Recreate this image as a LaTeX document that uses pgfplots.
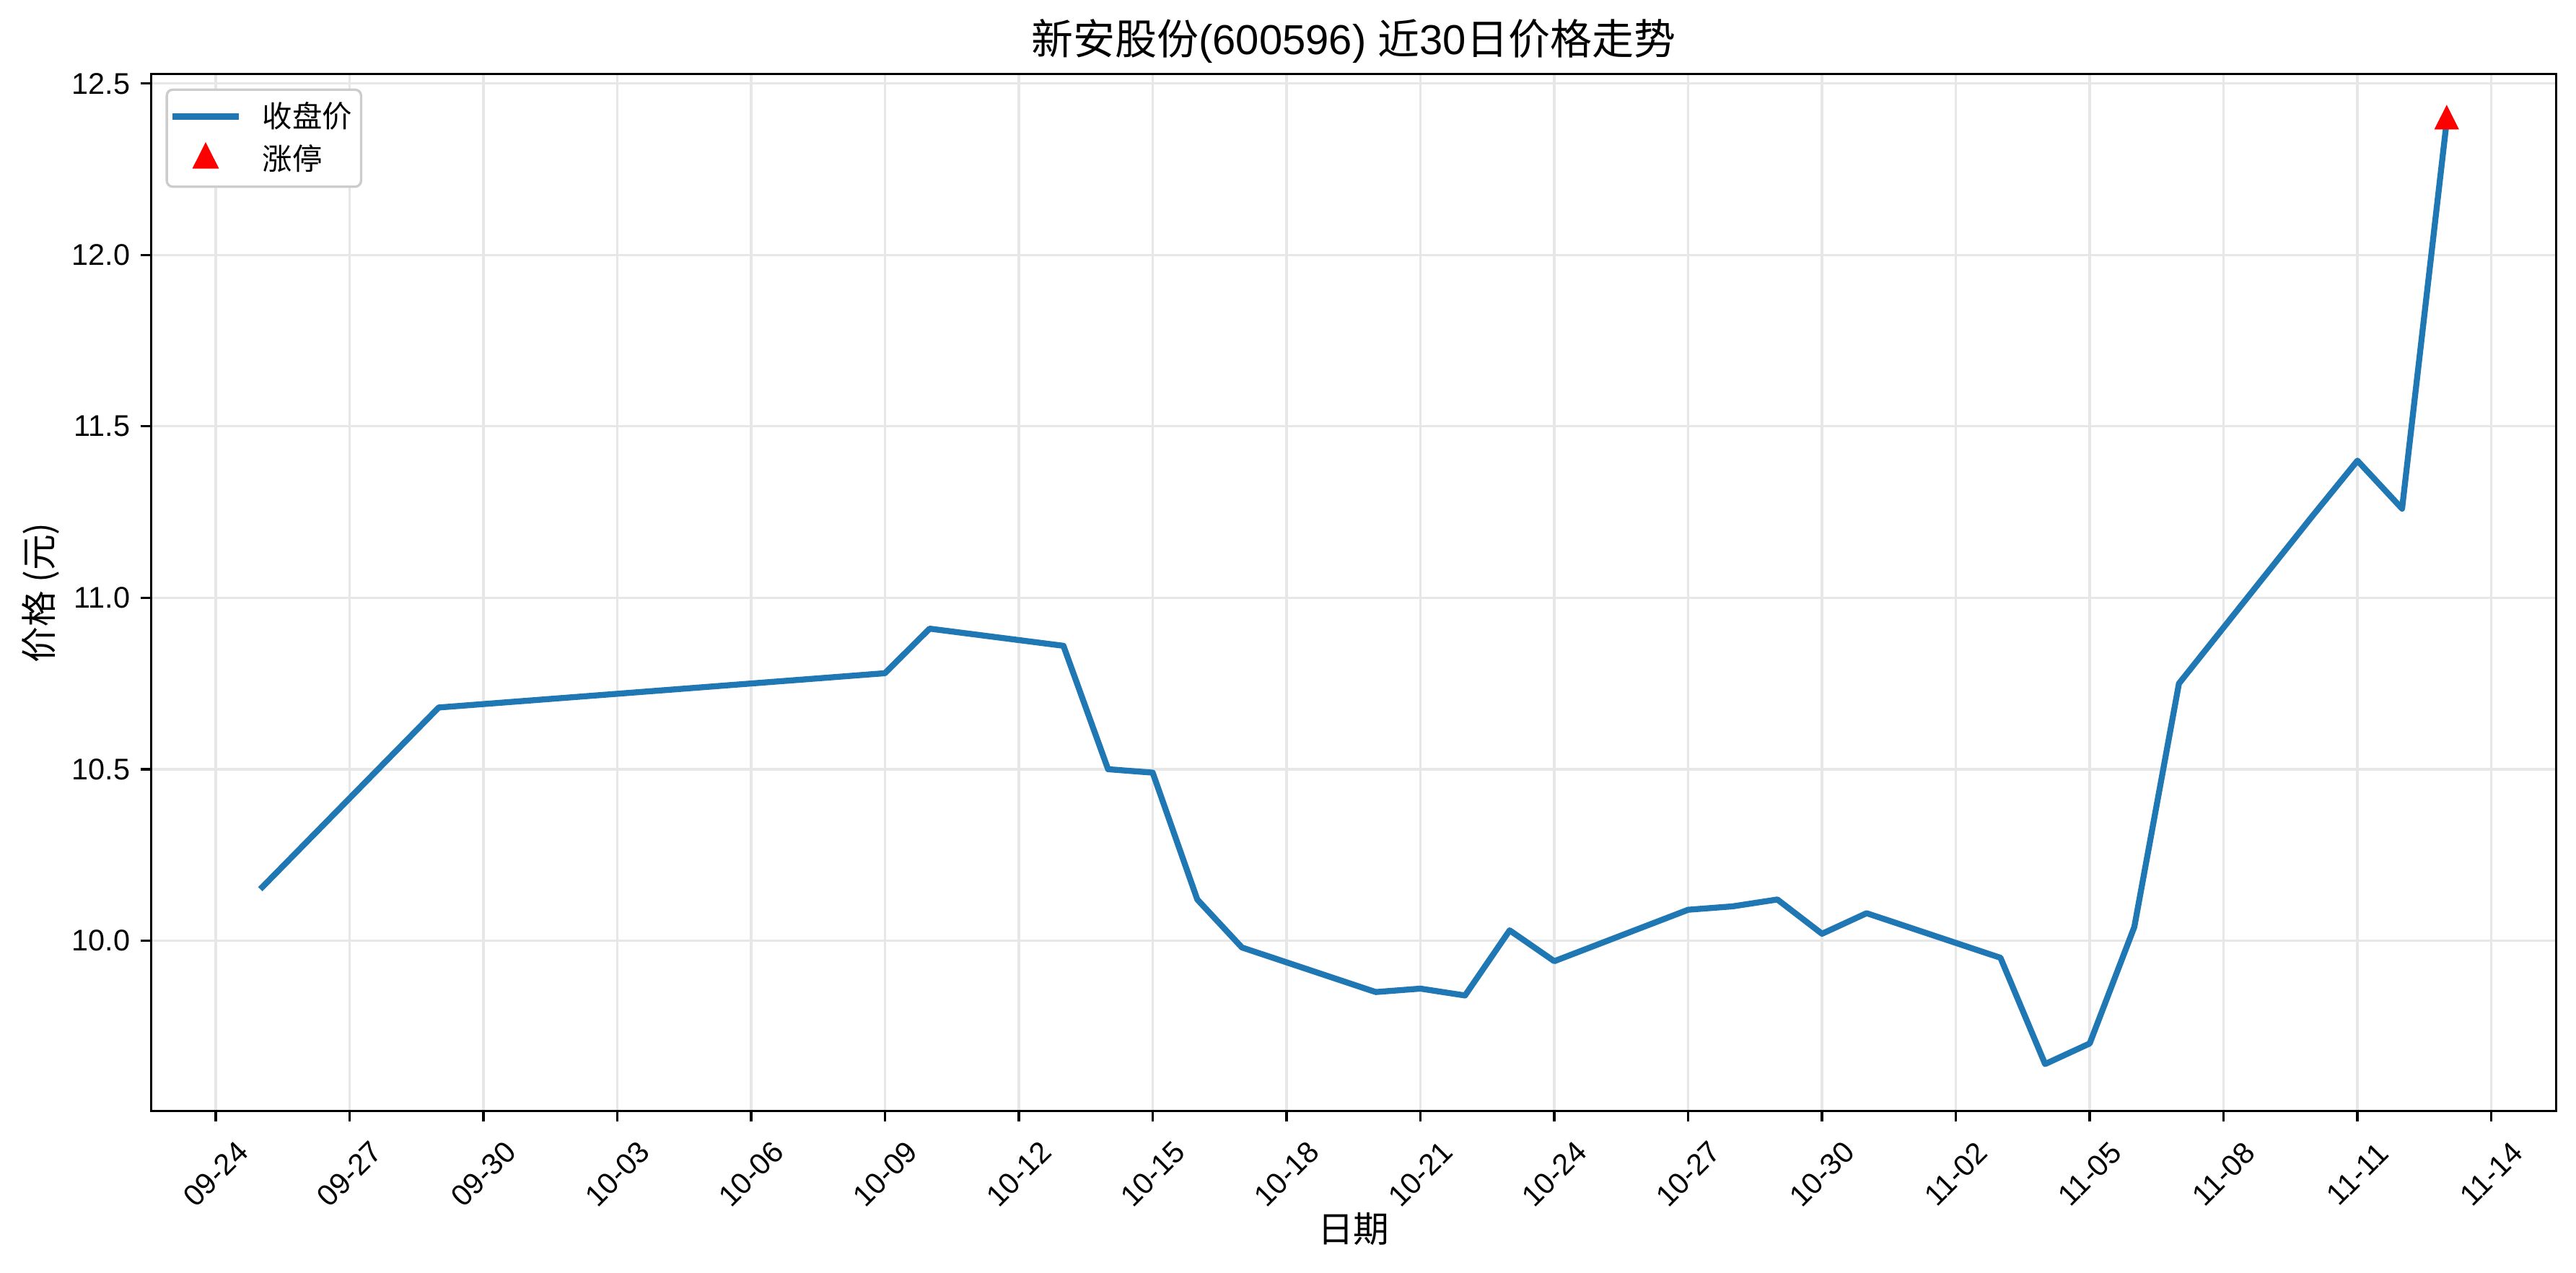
\documentclass[border=0pt]{standalone}
\usepackage{fontspec}
\setmainfont{Liberation Sans}
\newfontfamily\cjk{Noto Sans CJK SC}
\usepackage{pgfplots}
\pgfplotsset{compat=1.18}
\definecolor{tabblue}{HTML}{1F77B4}
\definecolor{gridc}{RGB}{231,231,231}
\definecolor{legc}{RGB}{204,204,204}
\begin{document}
\begin{tikzpicture}
\begin{axis}[
  scale only axis,
  width=804.6pt, height=346.9pt,
  xmin=-1.45, xmax=52.45, ymin=9.5025, ymax=12.5275,
  xtick={0,3,6,9,12,15,18,21,24,27,30,33,36,39,42,45,48,51},
  xticklabels={09-24,09-27,09-30,10-03,10-06,10-09,10-12,10-15,10-18,10-21,10-24,10-27,10-30,11-02,11-05,11-08,11-11,11-14},
  ytick={10,10.5,11,11.5,12,12.5},
  yticklabel style={/pgf/number format/.cd, fixed, fixed zerofill, precision=1},
  /pgf/number format/assume math mode=true,
  tick label style={font=\fontsize{10}{12}\selectfont},
  xticklabel style={rotate=45, anchor=center},
  xticklabel shift=17.5pt,
  tick align=outside, tick pos=left,
  major tick length=3.5pt,
  every tick/.style={black, line width=0.8pt},
  axis line style={black, line width=0.8pt},
  grid=major,
  major grid style={gridc, line width=0.8pt},
  title={{\cjk 新安股份}(600596) {\cjk 近}30{\cjk 日价格走势}},
  title style={font=\fontsize{14}{16.8}\selectfont, at={(axis description cs:0.5,1.0014)}, anchor=base},
  xlabel={\cjk 日期},
  xlabel style={font=\fontsize{12}{14.4}\selectfont, at={(axis description cs:0.5,-0.1136)}, anchor=center},
  ylabel={\cjk 价格 (元)},
  ylabel style={font=\fontsize{12}{14.4}\selectfont, at={(axis description cs:-0.0457,0.5)}, anchor=center},
  legend image code/.code={\draw[mark repeat=2,mark phase=2,#1] plot coordinates {(0pt,0pt) (11pt,0pt) (22pt,0pt)};},
  legend style={at={(axis description cs:0,1)}, anchor=north west, xshift=4.9pt, yshift=-4.8pt,
    draw=legc, line width=0.8pt, rounded corners=2pt, fill=white,
    font=\fontsize{10}{12}\selectfont, inner xsep=1pt, inner ysep=2pt, row sep=0.5pt,
    nodes={inner sep=2pt}, /tikz/every odd column/.append style={column sep=5pt}},
  legend cell align=left,
]
\addplot[tabblue, line width=2pt, line join=round] table {
x y
1 10.15
5 10.68
15 10.78
16 10.91
19 10.86
20 10.50
21 10.49
22 10.12
23 9.98
26 9.85
27 9.86
28 9.84
29 10.03
30 9.94
33 10.09
34 10.10
35 10.12
36 10.02
37 10.08
40 9.95
41 9.64
42 9.70
43 10.04
44 10.75
47 11.24
48 11.40
49 11.26
50 12.39
};
\addlegendentry{\cjk 收盘价}
\addplot[only marks, mark=triangle*, color=red, mark size=4.4pt, mark options={yscale=1.15}] table {
x y
50 12.39
};
\addlegendentry{\cjk 涨停}
\end{axis}
\pgfresetboundingbox
\path[use as bounding box] ([xshift=-50.5pt,yshift=-54pt]current axis.south west) rectangle ([xshift=6.7pt,yshift=24.8pt]current axis.north east);
\end{tikzpicture}
\end{document}
